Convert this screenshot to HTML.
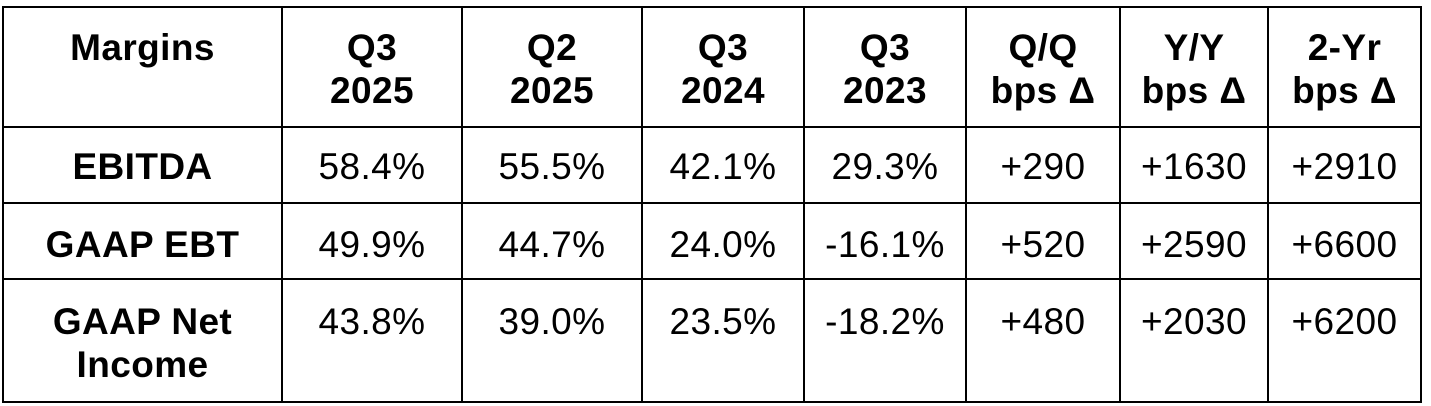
<!DOCTYPE html>
<html><head><style>
body{margin:0;width:1431px;height:406px;background:#fff;position:relative;overflow:hidden;font-family:"Liberation Sans",Arial,sans-serif;color:#000}
.h{position:absolute;height:2px;background:#000;left:2px;width:1420px}
.v{position:absolute;width:2px;background:#000;top:6px;height:397px}
.c{position:absolute;text-align:center;font-size:37px;line-height:43px;letter-spacing:0.4px;white-space:nowrap}
.b{font-weight:bold}
</style></head><body>
<div class="h" style="top:6px"></div>
<div class="h" style="top:126px"></div>
<div class="h" style="top:202px"></div>
<div class="h" style="top:278px"></div>
<div class="h" style="top:401px"></div>
<div class="v" style="left:2px"></div>
<div class="v" style="left:281px"></div>
<div class="v" style="left:461px"></div>
<div class="v" style="left:641px"></div>
<div class="v" style="left:803px"></div>
<div class="v" style="left:965px"></div>
<div class="v" style="left:1119px"></div>
<div class="v" style="left:1267px"></div>
<div class="v" style="left:1420px"></div>

<div class="c b" style="left:4px;width:277px;top:26px">Margins</div>
<div class="c b" style="left:283px;width:178px;top:26px">Q3<br>2025</div>
<div class="c b" style="left:463px;width:178px;top:26px">Q2<br>2025</div>
<div class="c b" style="left:643px;width:160px;top:26px">Q3<br>2024</div>
<div class="c b" style="left:805px;width:160px;top:26px">Q3<br>2023</div>
<div class="c b" style="left:967px;width:152px;top:26px">Q/Q<br>bps Δ</div>
<div class="c b" style="left:1121px;width:146px;top:26px">Y/Y<br>bps Δ</div>
<div class="c b" style="left:1269px;width:151px;top:26px">2-Yr<br>bps Δ</div>

<div class="c b" style="left:4px;width:277px;top:145px">EBITDA</div>
<div class="c" style="left:283px;width:178px;top:145px">58.4%</div>
<div class="c" style="left:463px;width:178px;top:145px">55.5%</div>
<div class="c" style="left:643px;width:160px;top:145px">42.1%</div>
<div class="c" style="left:805px;width:160px;top:145px">29.3%</div>
<div class="c" style="left:967px;width:152px;top:145px">+290</div>
<div class="c" style="left:1121px;width:146px;top:145px">+1630</div>
<div class="c" style="left:1269px;width:151px;top:145px">+2910</div>

<div class="c b" style="left:4px;width:277px;top:223px">GAAP EBT</div>
<div class="c" style="left:283px;width:178px;top:223px">49.9%</div>
<div class="c" style="left:463px;width:178px;top:223px">44.7%</div>
<div class="c" style="left:643px;width:160px;top:223px">24.0%</div>
<div class="c" style="left:805px;width:160px;top:223px">-16.1%</div>
<div class="c" style="left:967px;width:152px;top:223px">+520</div>
<div class="c" style="left:1121px;width:146px;top:223px">+2590</div>
<div class="c" style="left:1269px;width:151px;top:223px">+6600</div>

<div class="c b" style="left:4px;width:277px;top:300px">GAAP Net<br>Income</div>
<div class="c" style="left:283px;width:178px;top:300px">43.8%</div>
<div class="c" style="left:463px;width:178px;top:300px">39.0%</div>
<div class="c" style="left:643px;width:160px;top:300px">23.5%</div>
<div class="c" style="left:805px;width:160px;top:300px">-18.2%</div>
<div class="c" style="left:967px;width:152px;top:300px">+480</div>
<div class="c" style="left:1121px;width:146px;top:300px">+2030</div>
<div class="c" style="left:1269px;width:151px;top:300px">+6200</div>
</body></html>
